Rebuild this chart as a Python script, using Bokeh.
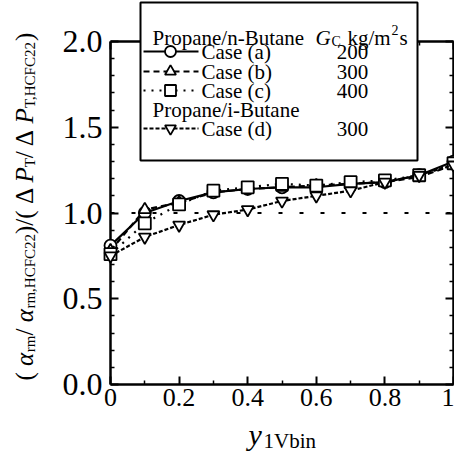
from math import pi
from bokeh.plotting import figure
from bokeh.models import LinearAxis, FixedTicker, Span, Range1d
from bokeh.core.properties import value
from bokeh.embed import file_html
from bokeh.resources import INLINE

# ---- data ----
y1vbin = [0.0, 0.1, 0.2, 0.3, 0.4, 0.5, 0.6, 0.7, 0.8, 0.9, 1.0]
case_a = [0.81, 1.00, 1.07, 1.12, 1.14, 1.15, 1.15, 1.17, 1.18, 1.22, 1.30]
case_b = [0.78, 1.02, 1.06, 1.12, 1.14, 1.15, 1.16, 1.17, 1.18, 1.21, 1.28]
case_c = [0.76, 0.94, 1.05, 1.13, 1.15, 1.17, 1.16, 1.18, 1.19, 1.22, 1.29]
case_d = [0.75, 0.86, 0.93, 0.99, 1.02, 1.07, 1.10, 1.13, 1.18, 1.22, 1.28]
gc_values = ["200", "300", "400", "300"]
case_names = ["Case (a)", "Case (b)", "Case (c)", "Case (d)"]
x_ticks = [0.0, 0.2, 0.4, 0.6, 0.8, 1.0]
x_tick_labels = ["0", "0.2", "0.4", "0.6", "0.8", "1"]
y_ticks = [0.0, 0.5, 1.0, 1.5, 2.0]
y_tick_labels = ["0.0", "0.5", "1.0", "1.5", "2.0"]
ref_level = 1.0

FONT = "Liberation Serif"
W, H = 454, 452
FL, FR, FT, FB = 110, 453, 41, 384
X0, X1, Y0, Y1 = 0.0, 1.0, 0.0, 2.0


def dx(px):
    return X0 + (px - FL) / (FR - FL) * (X1 - X0)


def dy(py):
    return Y0 + (FB - py) / (FB - FT) * (Y1 - Y0)


p = figure(width=W, height=H, output_backend="svg", toolbar_location=None,
           x_range=Range1d(X0, X1), y_range=Range1d(Y0, Y1),
           min_border_left=FL, min_border_right=W - FR,
           min_border_top=FT, min_border_bottom=H - FB)
p.grid.visible = False
p.outline_line_color = None
p.background_fill_color = "white"
p.border_fill_color = "white"

bottom_ax = p.xaxis[0]
left_ax = p.yaxis[0]
top_ax = LinearAxis()
right_ax = LinearAxis()
p.add_layout(top_ax, "above")
p.add_layout(right_ax, "right")

xt = FixedTicker(ticks=x_ticks, minor_ticks=[0.1, 0.3, 0.5, 0.7, 0.9])
yt = FixedTicker(ticks=y_ticks, minor_ticks=[0.1, 0.2, 0.3, 0.4, 0.6, 0.7, 0.8, 0.9,
                                             1.1, 1.2, 1.3, 1.4, 1.6, 1.7, 1.8, 1.9])
bottom_ax.ticker = xt
top_ax.ticker = xt
left_ax.ticker = yt
right_ax.ticker = yt

for ax in [bottom_ax, left_ax, top_ax, right_ax]:
    ax.axis_line_width = 2.5
    ax.axis_line_color = "black"
    ax.major_tick_in = 8
    ax.major_tick_out = 0
    ax.minor_tick_in = 4
    ax.minor_tick_out = 0
    ax.major_tick_line_width = 2
    ax.minor_tick_line_width = 1.5
    ax.major_tick_line_color = "black"
    ax.minor_tick_line_color = "black"
    ax.major_label_text_font = FONT
    ax.major_label_text_color = "black"

bottom_ax.major_label_overrides = dict(zip(x_ticks, x_tick_labels))
bottom_ax.major_label_text_font_size = "26px"
bottom_ax.major_label_standoff = 4
left_ax.major_label_overrides = dict(zip(y_ticks, y_tick_labels))
left_ax.major_label_text_font_size = "32px"
left_ax.major_label_standoff = 8
top_ax.major_label_overrides = {t: "" for t in x_ticks}
right_ax.major_label_overrides = {t: "" for t in y_ticks}
for ax in [top_ax, right_ax]:
    ax.major_label_text_font_size = "10px"
    ax.major_label_standoff = 0

p.add_layout(Span(location=ref_level, dimension="width", line_color="black",
                  line_width=2, line_dash="4 17", level="underlay"))

# ---- data series ----
series = [
    (case_a, "circle", "solid"),
    (case_b, "triangle", "6 4"),
    (case_c, "square", "2 6"),
    (case_d, "inverted_triangle", "4 2"),
]
for ys, mk, dash in series:
    r1 = p.line(y1vbin, ys, line_color="black", line_width=2.2, line_dash=dash)
    r2 = p.scatter(y1vbin, ys, marker=mk, size=12, fill_color="white",
                   line_color="black", line_width=1.8)
    r1.level = "overlay"
    r2.level = "overlay"

# ---- legend box ----
BL, BR, BT, BB = 140, 417, 2, 160
box = p.quad(left=[dx(BL)], right=[dx(BR)], top=[dy(BT)], bottom=[dy(BB)],
             fill_color="white", fill_alpha=1.0, line_color="black", line_width=2)
box.level = "overlay"


def lab(text, px, py, size, italic=False, align="left", baseline="alphabetic", angle=0.0):
    r = p.text(x=[dx(px)], y=[dy(py)], text=[text], text_font=value(FONT),
               text_font_size=value(f"{size}px"),
               text_font_style="italic" if italic else "normal",
               text_align=align, text_baseline=baseline, angle=angle,
               text_color="black")
    r.level = "overlay"


LF = 21
rows = [51, 71, 90, 128]
lab("Propane/n-Butane", 152, 37, LF)
lab("G", 315, 37, LF, italic=True)
lab("C", 331, 41, 14)
lab("kg/m", 347, 37, LF)
lab("2", 391, 29, 14)
lab("s", 399, 37, LF)
lab("Propane/i-Butane", 152, 109, LF, baseline="middle")
for (ys, mk, dash), row, nm, gv in zip(series, rows, case_names, gc_values):
    lr = p.line([dx(143), dx(198)], [dy(row), dy(row)], line_color="black",
                line_width=2, line_dash=dash)
    lm = p.scatter([dx(170)], [dy(row)], marker=mk, size=11, fill_color="white",
                   line_color="black", line_width=1.8)
    lr.level = "overlay"
    lm.level = "overlay"
    lab(nm, 201, row, LF, baseline="middle")
    lab(gv, 352, row, LF, align="center", baseline="middle")

# ---- axis titles built from pieces (sub/superscripts) ----
TW = {'(': .333, ')': .333, '/': .278, ' ': .25, ',': .25, 'r': .333, 'm': .778,
      'H': .722, 'C': .667, 'F': .556, '2': .5, 'T': .611, 'P': .611, 'Δ': .612,
      'α': .55}


def tw(s, size):
    return sum(TW.get(ch, 0.5) for ch in s) * size


MAIN, SUB = 25, 15
pieces = [("( ", MAIN, False, False), ("α", MAIN, True, False), ("rm", SUB, False, True),
          ("/ ", MAIN, False, False), ("α", MAIN, True, False),
          ("rm,HCFC22", SUB, False, True), (")/( ", MAIN, False, False),
          ("Δ ", MAIN, False, False), ("P", MAIN, True, False), ("T", SUB, False, True),
          ("/ Δ ", MAIN, False, False), ("P", MAIN, True, False),
          ("T,HCFC22", SUB, False, True), (")", MAIN, False, False)]
cur = 380
for txt, sz, it, sub in pieces:
    lab(txt, 29 if sub else 24, cur, sz, italic=it, angle=pi / 2)
    cur -= tw(txt, sz)

lab("y", 248, 434, 30, italic=True)
lab("1Vbin", 263, 440, 21)

open("out.html", "w").write(file_html(p, INLINE))
